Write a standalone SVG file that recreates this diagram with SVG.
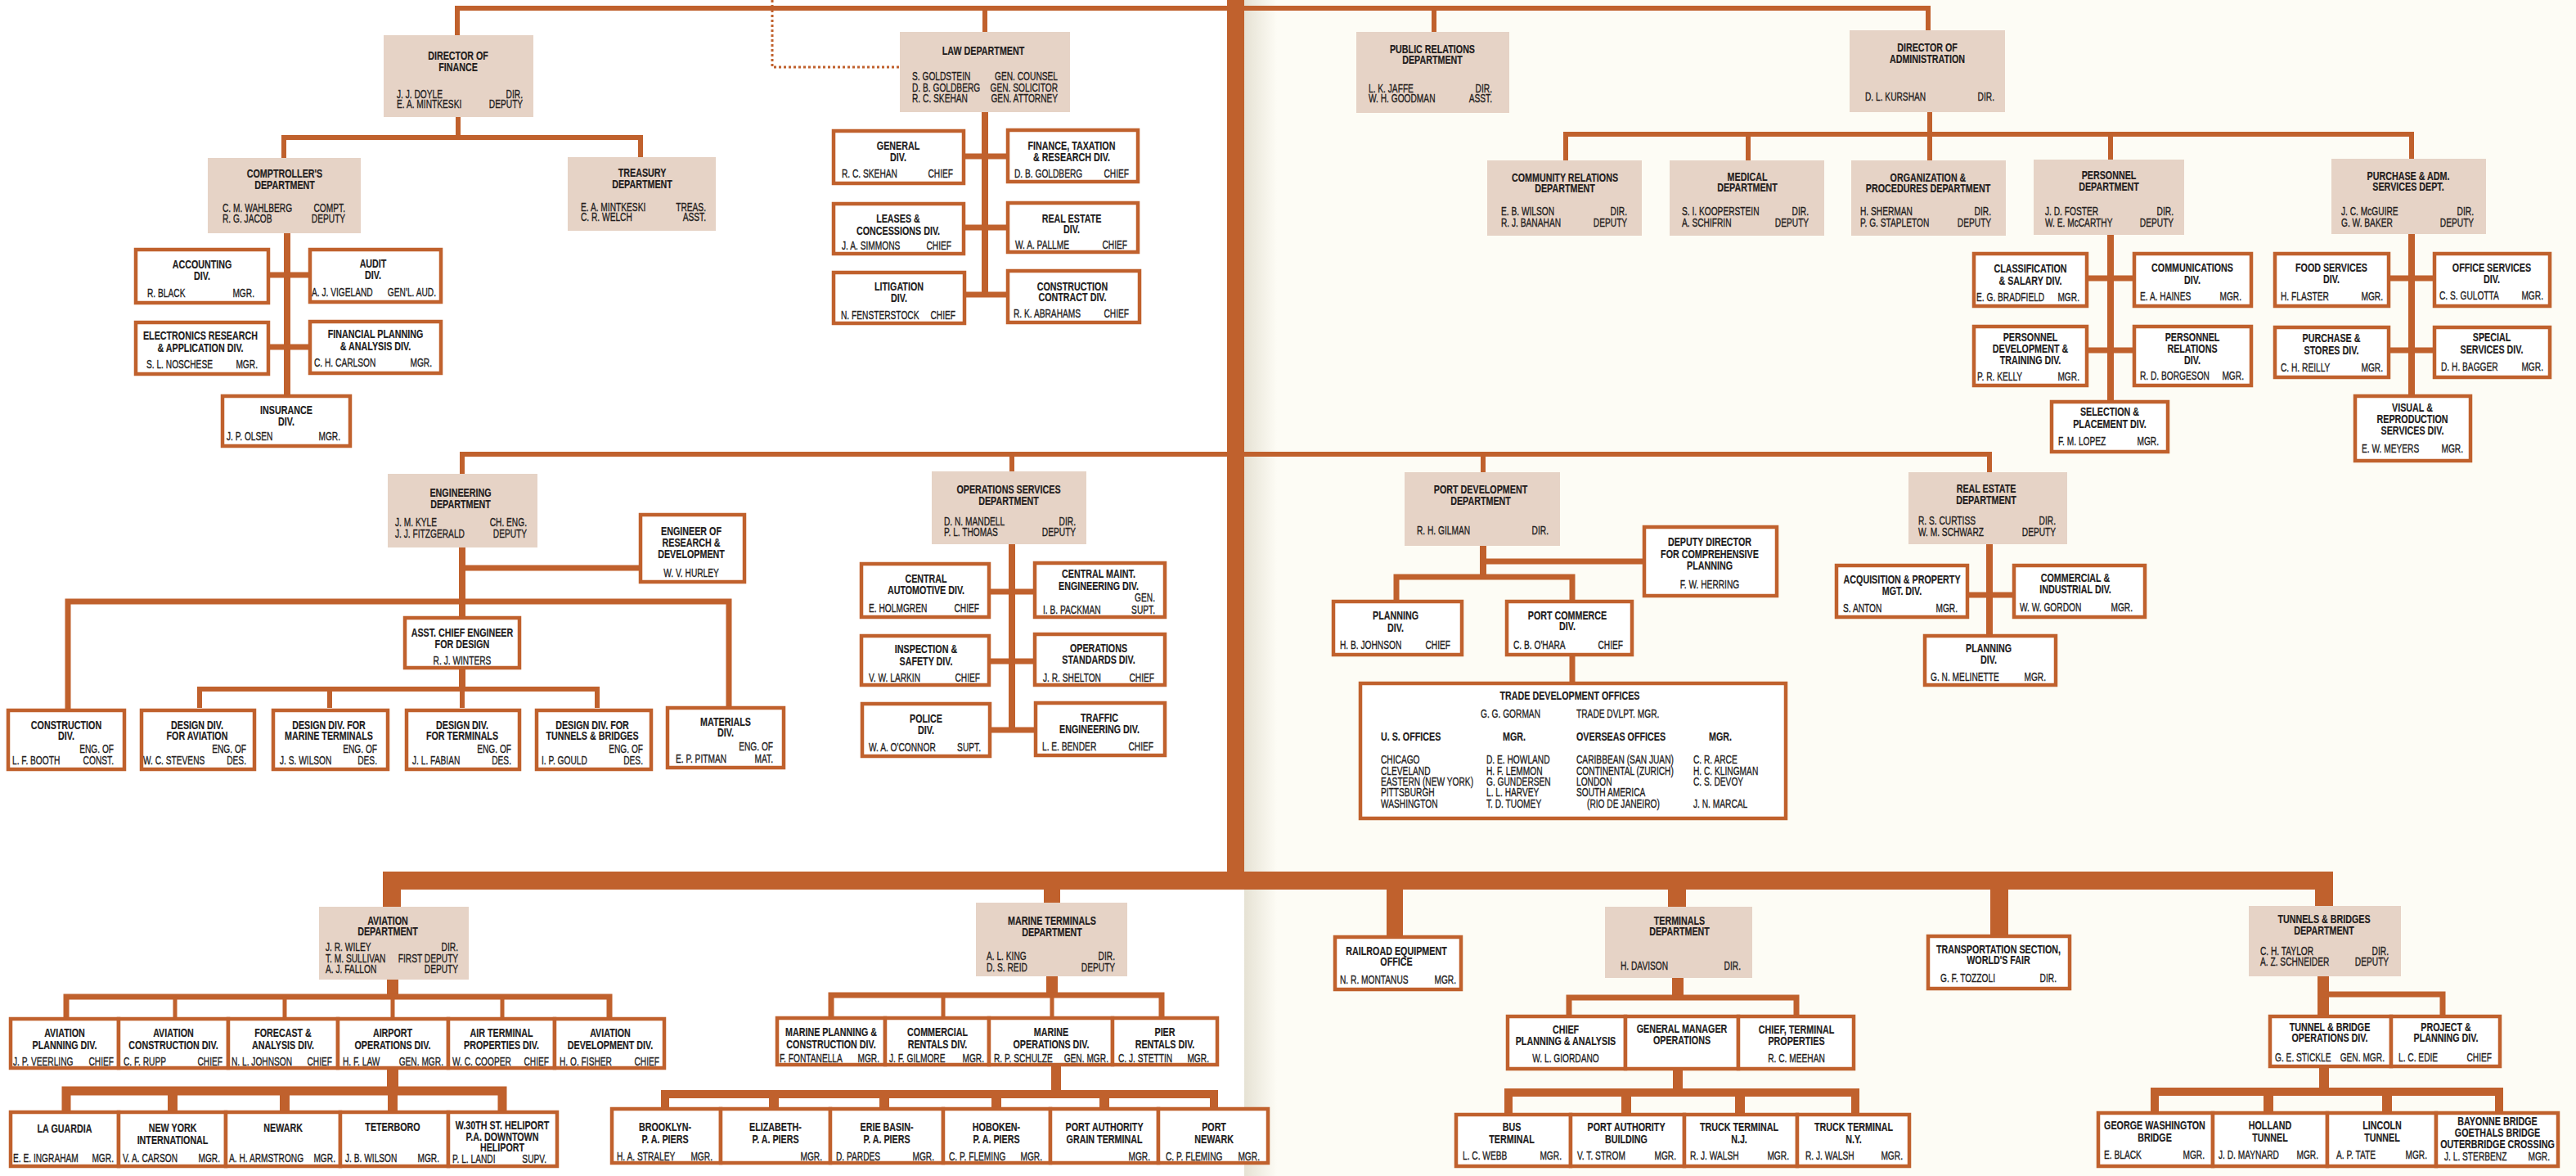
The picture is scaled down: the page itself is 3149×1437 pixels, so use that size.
<svg xmlns="http://www.w3.org/2000/svg" width="3149" height="1437" viewBox="0 0 3149 1437">
<defs>
<style>
.ln{fill:none;stroke:#C0612D;stroke-linejoin:miter;stroke-linecap:butt}
.d{fill:#E6D3C6}
.b{fill:#FFFFFF;stroke:#C0612D;stroke-width:4.5}
text{font-family:"Liberation Sans",Arial,sans-serif;font-size:15px;fill:#231D1D;stroke:#231D1D;stroke-width:0.35;transform-box:fill-box;transform-origin:left center;transform:scaleX(0.68)}
.t{font-size:14.5px;font-weight:bold;text-anchor:middle;transform-origin:center;transform:scaleX(0.74);stroke-width:0.2}
.tl{font-size:14.5px;font-weight:bold;transform:scaleX(0.74);stroke-width:0.2}
.e{text-anchor:end;transform-origin:right center}
.m{text-anchor:middle;transform-origin:center}
</style>
<linearGradient id="gut" x1="0" y1="0" x2="1" y2="0">
<stop offset="0" stop-color="#E6E2D4"/>
<stop offset="1" stop-color="#FDFCF5"/>
</linearGradient>
</defs>
<rect x="0" y="0" width="3149" height="1437" fill="#FFFFFF"/>
<rect x="1521" y="0" width="1628" height="1437" fill="#FDFCF5"/>
<rect x="1521" y="0" width="40" height="1437" fill="url(#gut)"/>

<g id="connectors">
<path class="ln" stroke-width="6" d="M559 43 V10 H2357 V37"/>
<path class="ln" stroke-width="3" stroke-dasharray="3 3" d="M944 0 V82 H1100"/>
<path class="ln" stroke-width="6" d="M1753 10 V39 M1204 10 V39"/>
<path class="ln" stroke-width="6" d="M560 143 V168 M347 193 V168 H783 V192"/>
<path class="ln" stroke-width="8" d="M351 285 V482"/>
<path class="ln" stroke-width="7" d="M330 336 H377 M330 424 H377"/>
<path class="ln" stroke-width="8" d="M1204 137 V362"/>
<path class="ln" stroke-width="7" d="M1180 191 H1230 M1180 278 H1230 M1181 360 H1230"/>
<path class="ln" stroke-width="6" d="M2359 137 V196 M1914 196 V164 H2948 V194 M2137 164 V196 M2580 164 V195"/>
<path class="ln" stroke-width="8" d="M2580 287 V489 M2948 286 V482"/>
<path class="ln" stroke-width="7" d="M2553 340 H2607 M2553 428 H2607 M2922 340 H2974 M2922 428 H2974"/>
<path class="ln" stroke-width="6" d="M565 579 V555 H2432 V577 M1237 555 V576 M1813 555 V577"/>
<path class="ln" stroke-width="8" d="M565 669 V842"/>
<path class="ln" stroke-width="7" d="M565 694 H781 M83 867 V735 H891 V863"/>
<path class="ln" stroke-width="6" d="M244 865 V842 H730 V865 M403 842 V865 M565 842 V865"/>
<path class="ln" stroke-width="8" d="M1237 665 V892"/>
<path class="ln" stroke-width="7" d="M1211 723 H1263 M1211 808 H1263 M1212 892 H1264"/>
<path class="ln" stroke-width="8" d="M1813 667 V705"/>
<path class="ln" stroke-width="7" d="M1813 686 H2008 M1707 733 V705 H1922 V733 M1922 802 V833"/>
<path class="ln" stroke-width="8" d="M2432 665 V775"/>
<path class="ln" stroke-width="7" d="M2407 727 H2460"/>
<rect x="1500" y="0" width="21" height="1087" fill="#C0612D"/>
<path class="ln" stroke-width="22" d="M479 1108 V1076 H2841 V1107"/>
<path class="ln" stroke-width="20" d="M1286 1076 V1103 M1705 1076 V1143"/>
<path class="ln" stroke-width="22" d="M2050 1076 V1108 M2444 1076 V1142"/>
<path class="ln" stroke-width="14" d="M480 1197 V1218"/>
<path class="ln" stroke-width="7" d="M81 1243 V1218 H745 V1243"/>
<path class="ln" stroke-width="5" d="M214 1218 V1243 M348 1218 V1243 M480 1218 V1243 M614 1218 V1243"/>
<path class="ln" stroke-width="14" d="M480 1307 V1333"/>
<path class="ln" stroke-width="11" d="M81 1357 V1333 H614 V1357"/>
<path class="ln" stroke-width="12" d="M211 1333 V1357 M348 1333 V1357 M480 1333 V1357"/>
<path class="ln" stroke-width="14" d="M1286 1193 V1216"/>
<path class="ln" stroke-width="7" d="M1016 1242 V1216 H1420 V1242"/>
<path class="ln" stroke-width="5" d="M1153 1216 V1242 M1286 1216 V1242"/>
<path class="ln" stroke-width="12" d="M1291 1303 V1337"/>
<path class="ln" stroke-width="10" d="M813 1353 V1337 H1484 V1353"/>
<path class="ln" stroke-width="12" d="M946 1337 V1353 M1081 1337 V1353 M1218 1337 V1353 M1350 1337 V1353"/>
<path class="ln" stroke-width="14" d="M2051 1195 V1219"/>
<path class="ln" stroke-width="7" d="M1918 1240 V1219 H2196 V1240"/>
<path class="ln" stroke-width="12" d="M2051 1308 V1335"/>
<path class="ln" stroke-width="10" d="M1844 1360 V1335 H2268 V1360"/>
<path class="ln" stroke-width="12" d="M1988 1335 V1360 M2127 1335 V1360"/>
<path class="ln" stroke-width="14" d="M2840 1193 V1240"/>
<path class="ln" stroke-width="7" d="M2840 1215 H2986 V1240"/>
<path class="ln" stroke-width="12" d="M2841 1305 V1334"/>
<path class="ln" stroke-width="10" d="M2634 1358 V1334 H3055 V1358"/>
<path class="ln" stroke-width="12" d="M2773 1334 V1358 M2918 1334 V1358"/>
</g>

<g id="dir-finance"><rect class="d" x="469" y="43" width="183" height="100"/>
<text class="t" x="560" y="73">DIRECTOR OF</text><text class="t" x="560" y="87">FINANCE</text>
<text x="485" y="120">J. J. DOYLE</text><text class="e" x="639" y="120">DIR.</text>
<text x="485" y="132">E. A. MINTKESKI</text><text class="e" x="639" y="132">DEPUTY</text></g>

<g id="comptroller"><rect class="d" x="254" y="193" width="187" height="92"/>
<text class="t" x="348" y="217">COMPTROLLER'S</text><text class="t" x="348" y="231">DEPARTMENT</text>
<text x="272" y="259">C. M. WAHLBERG</text><text class="e" x="422" y="259">COMPT.</text>
<text x="272" y="272">R. G. JACOB</text><text class="e" x="422" y="272">DEPUTY</text></g>

<g id="treasury"><rect class="d" x="694" y="192" width="181" height="90"/>
<text class="t" x="785" y="216">TREASURY</text><text class="t" x="785" y="230">DEPARTMENT</text>
<text x="710" y="258">E. A. MINTKESKI</text><text class="e" x="863" y="258">TREAS.</text>
<text x="710" y="270">C. R. WELCH</text><text class="e" x="863" y="270">ASST.</text></g>

<g id="accounting"><rect class="b" x="166" y="305" width="162" height="65"/>
<text class="t" x="247" y="328">ACCOUNTING</text><text class="t" x="247" y="342">DIV.</text>
<text x="180" y="363">R. BLACK</text><text class="e" x="311" y="363">MGR.</text></g>
<g id="audit"><rect class="b" x="379" y="305" width="160" height="64"/>
<text class="t" x="456" y="327">AUDIT</text><text class="t" x="456" y="341">DIV.</text>
<text x="381" y="362">A. J. VIGELAND</text><text class="e" x="533" y="362">GEN'L. AUD.</text></g>
<g id="electronics"><rect class="b" x="166" y="394" width="162" height="63"/>
<text class="t" x="245" y="415">ELECTRONICS RESEARCH</text><text class="t" x="245" y="430">&amp; APPLICATION DIV.</text>
<text x="179" y="450">S. L. NOSCHESE</text><text class="e" x="315" y="450">MGR.</text></g>
<g id="fin-planning"><rect class="b" x="379" y="393" width="160" height="63"/>
<text class="t" x="459" y="413">FINANCIAL PLANNING</text><text class="t" x="459" y="428">&amp; ANALYSIS DIV.</text>
<text x="384" y="448">C. H. CARLSON</text><text class="e" x="528" y="448">MGR.</text></g>
<g id="insurance"><rect class="b" x="272" y="484" width="156" height="61"/>
<text class="t" x="350" y="506">INSURANCE</text><text class="t" x="350" y="520">DIV.</text>
<text x="277" y="538">J. P. OLSEN</text><text class="e" x="416" y="538">MGR.</text></g>

<g id="law"><rect class="d" x="1100" y="39" width="208" height="98"/>
<text class="t" x="1202" y="67">LAW DEPARTMENT</text>
<text x="1115" y="98">S. GOLDSTEIN</text><text class="e" x="1293" y="98">GEN. COUNSEL</text>
<text x="1115" y="112">D. B. GOLDBERG</text><text class="e" x="1293" y="112">GEN. SOLICITOR</text>
<text x="1115" y="125">R. C. SKEHAN</text><text class="e" x="1293" y="125">GEN. ATTORNEY</text></g>
<g id="law-general"><rect class="b" x="1019" y="160" width="159" height="64"/>
<text class="t" x="1098" y="183">GENERAL</text><text class="t" x="1098" y="197">DIV.</text>
<text x="1029" y="217">R. C. SKEHAN</text><text class="e" x="1165" y="217">CHIEF</text></g>
<g id="law-finance"><rect class="b" x="1232" y="159" width="159" height="63"/>
<text class="t" x="1310" y="183">FINANCE, TAXATION</text><text class="t" x="1310" y="197">&amp; RESEARCH DIV.</text>
<text x="1240" y="217">D. B. GOLDBERG</text><text class="e" x="1380" y="217">CHIEF</text></g>
<g id="law-leases"><rect class="b" x="1019" y="249" width="159" height="61"/>
<text class="t" x="1098" y="272">LEASES &amp;</text><text class="t" x="1098" y="287">CONCESSIONS DIV.</text>
<text x="1029" y="305">J. A. SIMMONS</text><text class="e" x="1163" y="305">CHIEF</text></g>
<g id="law-realestate"><rect class="b" x="1232" y="248" width="159" height="60"/>
<text class="t" x="1310" y="272">REAL ESTATE</text><text class="t" x="1310" y="285">DIV.</text>
<text x="1241" y="304">W. A. PALLME</text><text class="e" x="1378" y="304">CHIEF</text></g>
<g id="law-litigation"><rect class="b" x="1019" y="333" width="160" height="62"/>
<text class="t" x="1099" y="355">LITIGATION</text><text class="t" x="1099" y="369">DIV.</text>
<text x="1028" y="390">N. FENSTERSTOCK</text><text class="e" x="1168" y="390">CHIEF</text></g>
<g id="law-construction"><rect class="b" x="1232" y="331" width="161" height="63"/>
<text class="t" x="1311" y="355">CONSTRUCTION</text><text class="t" x="1311" y="368">CONTRACT DIV.</text>
<text x="1239" y="388">R. K. ABRAHAMS</text><text class="e" x="1380" y="388">CHIEF</text></g>

<g id="public-relations"><rect class="d" x="1658" y="39" width="187" height="99"/>
<text class="t" x="1751" y="65">PUBLIC RELATIONS</text><text class="t" x="1751" y="78">DEPARTMENT</text>
<text x="1673" y="113">L. K. JAFFE</text><text class="e" x="1824" y="113">DIR.</text>
<text x="1673" y="125">W. H. GOODMAN</text><text class="e" x="1824" y="125">ASST.</text></g>

<g id="dir-admin"><rect class="d" x="2261" y="37" width="190" height="100"/>
<text class="t" x="2356" y="63">DIRECTOR OF</text><text class="t" x="2356" y="77">ADMINISTRATION</text>
<text x="2280" y="123">D. L. KURSHAN</text><text class="e" x="2438" y="123">DIR.</text></g>

<g id="community"><rect class="d" x="1818" y="196" width="189" height="92"/>
<text class="t" x="1913" y="222">COMMUNITY RELATIONS</text><text class="t" x="1913" y="235">DEPARTMENT</text>
<text x="1835" y="263">E. B. WILSON</text><text class="e" x="1989" y="263">DIR.</text>
<text x="1835" y="277">R. J. BANAHAN</text><text class="e" x="1989" y="277">DEPUTY</text></g>
<g id="medical"><rect class="d" x="2041" y="196" width="189" height="92"/>
<text class="t" x="2136" y="221">MEDICAL</text><text class="t" x="2136" y="234">DEPARTMENT</text>
<text x="2056" y="263">S. I. KOOPERSTEIN</text><text class="e" x="2211" y="263">DIR.</text>
<text x="2056" y="277">A. SCHIFRIN</text><text class="e" x="2211" y="277">DEPUTY</text></g>
<g id="org-proc"><rect class="d" x="2263" y="196" width="189" height="92"/>
<text class="t" x="2357" y="222">ORGANIZATION &amp;</text><text class="t" x="2357" y="235">PROCEDURES DEPARTMENT</text>
<text x="2274" y="263">H. SHERMAN</text><text class="e" x="2434" y="263">DIR.</text>
<text x="2274" y="277">P. G. STAPLETON</text><text class="e" x="2434" y="277">DEPUTY</text></g>
<g id="personnel"><rect class="d" x="2486" y="195" width="184" height="92"/>
<text class="t" x="2578" y="219">PERSONNEL</text><text class="t" x="2578" y="233">DEPARTMENT</text>
<text x="2500" y="263">J. D. FOSTER</text><text class="e" x="2657" y="263">DIR.</text>
<text x="2500" y="277">W. E. McCARTHY</text><text class="e" x="2657" y="277">DEPUTY</text></g>
<g id="purchase"><rect class="d" x="2850" y="194" width="189" height="92"/>
<text class="t" x="2944" y="220">PURCHASE &amp; ADM.</text><text class="t" x="2944" y="233">SERVICES DEPT.</text>
<text x="2862" y="263">J. C. McGUIRE</text><text class="e" x="3024" y="263">DIR.</text>
<text x="2862" y="277">G. W. BAKER</text><text class="e" x="3024" y="277">DEPUTY</text></g>

<g id="classification"><rect class="b" x="2413" y="310" width="138" height="64"/>
<text class="t" x="2482" y="333">CLASSIFICATION</text><text class="t" x="2482" y="348">&amp; SALARY DIV.</text>
<text x="2416" y="368">E. G. BRADFIELD</text><text class="e" x="2542" y="368">MGR.</text></g>
<g id="communications"><rect class="b" x="2609" y="310" width="143" height="64"/>
<text class="t" x="2680" y="332">COMMUNICATIONS</text><text class="t" x="2680" y="347">DIV.</text>
<text x="2616" y="367">E. A. HAINES</text><text class="e" x="2740" y="367">MGR.</text></g>
<g id="pers-dev"><rect class="b" x="2413" y="399" width="138" height="72"/>
<text class="t" x="2482" y="417">PERSONNEL</text><text class="t" x="2482" y="431">DEVELOPMENT &amp;</text><text class="t" x="2482" y="445">TRAINING DIV.</text>
<text x="2417" y="465">P. R. KELLY</text><text class="e" x="2542" y="465">MGR.</text></g>
<g id="pers-relations"><rect class="b" x="2609" y="399" width="143" height="72"/>
<text class="t" x="2680" y="417">PERSONNEL</text><text class="t" x="2680" y="431">RELATIONS</text><text class="t" x="2680" y="445">DIV.</text>
<text x="2616" y="464">R. D. BORGESON</text><text class="e" x="2743" y="464">MGR.</text></g>
<g id="selection"><rect class="b" x="2508" y="491" width="142" height="61"/>
<text class="t" x="2579" y="508">SELECTION &amp;</text><text class="t" x="2579" y="523">PLACEMENT DIV.</text>
<text x="2516" y="544">F. M. LOPEZ</text><text class="e" x="2639" y="544">MGR.</text></g>

<g id="food"><rect class="b" x="2781" y="310" width="139" height="64"/>
<text class="t" x="2850" y="332">FOOD SERVICES</text><text class="t" x="2850" y="346">DIV.</text>
<text x="2788" y="367">H. FLASTER</text><text class="e" x="2913" y="367">MGR.</text></g>
<g id="office"><rect class="b" x="2976" y="310" width="141" height="64"/>
<text class="t" x="3046" y="332">OFFICE SERVICES</text><text class="t" x="3046" y="346">DIV.</text>
<text x="2982" y="366">C. S. GULOTTA</text><text class="e" x="3109" y="366">MGR.</text></g>
<g id="purchase-stores"><rect class="b" x="2781" y="400" width="139" height="61"/>
<text class="t" x="2850" y="418">PURCHASE &amp;</text><text class="t" x="2850" y="433">STORES DIV.</text>
<text x="2788" y="454">C. H. REILLY</text><text class="e" x="2913" y="454">MGR.</text></g>
<g id="special"><rect class="b" x="2976" y="400" width="141" height="61"/>
<text class="t" x="3046" y="417">SPECIAL</text><text class="t" x="3046" y="432">SERVICES DIV.</text>
<text x="2984" y="453">D. H. BAGGER</text><text class="e" x="3109" y="453">MGR.</text></g>
<g id="visual"><rect class="b" x="2879" y="484" width="141" height="79"/>
<text class="t" x="2949" y="503">VISUAL &amp;</text><text class="t" x="2949" y="517">REPRODUCTION</text><text class="t" x="2949" y="531">SERVICES DIV.</text>
<text x="2887" y="553">E. W. MEYERS</text><text class="e" x="3011" y="553">MGR.</text></g>

<g id="engineering"><rect class="d" x="474" y="579" width="183" height="90"/>
<text class="t" x="563" y="607">ENGINEERING</text><text class="t" x="563" y="621">DEPARTMENT</text>
<text x="483" y="643">J. M. KYLE</text><text class="e" x="644" y="643">CH. ENG.</text>
<text x="483" y="657">J. J. FITZGERALD</text><text class="e" x="644" y="657">DEPUTY</text></g>
<g id="eng-research"><rect class="b" x="783" y="629" width="127" height="82"/>
<text class="t" x="845" y="654">ENGINEER OF</text><text class="t" x="845" y="668">RESEARCH &amp;</text><text class="t" x="845" y="682">DEVELOPMENT</text>
<text class="m" x="845" y="705">W. V. HURLEY</text></g>
<g id="asst-chief"><rect class="b" x="495" y="755" width="140" height="61"/>
<text class="t" x="565" y="778">ASST. CHIEF ENGINEER</text><text class="t" x="565" y="792">FOR DESIGN</text>
<text class="m" x="565" y="812">R. J. WINTERS</text></g>
<g id="eng-construction"><rect class="b" x="10" y="868" width="142" height="72"/>
<text class="t" x="81" y="891">CONSTRUCTION</text><text class="t" x="81" y="904">DIV.</text>
<text class="e" x="139" y="920">ENG. OF</text>
<text x="15" y="934">L. F. BOOTH</text><text class="e" x="139" y="934">CONST.</text></g>
<g id="design-aviation"><rect class="b" x="173" y="868" width="138" height="72"/>
<text class="t" x="241" y="891">DESIGN DIV.</text><text class="t" x="241" y="904">FOR AVIATION</text>
<text class="e" x="301" y="920">ENG. OF</text>
<text x="175" y="934">W. C. STEVENS</text><text class="e" x="301" y="934">DES.</text></g>
<g id="design-marine"><rect class="b" x="334" y="868" width="140" height="72"/>
<text class="t" x="402" y="891">DESIGN DIV. FOR</text><text class="t" x="402" y="904">MARINE TERMINALS</text>
<text class="e" x="461" y="920">ENG. OF</text>
<text x="342" y="934">J. S. WILSON</text><text class="e" x="461" y="934">DES.</text></g>
<g id="design-terminals"><rect class="b" x="497" y="868" width="138" height="72"/>
<text class="t" x="565" y="891">DESIGN DIV.</text><text class="t" x="565" y="904">FOR TERMINALS</text>
<text class="e" x="625" y="920">ENG. OF</text>
<text x="504" y="934">J. L. FABIAN</text><text class="e" x="625" y="934">DES.</text></g>
<g id="design-tunnels"><rect class="b" x="656" y="868" width="140" height="72"/>
<text class="t" x="724" y="891">DESIGN DIV. FOR</text><text class="t" x="724" y="904">TUNNELS &amp; BRIDGES</text>
<text class="e" x="786" y="920">ENG. OF</text>
<text x="662" y="934">I. P. GOULD</text><text class="e" x="786" y="934">DES.</text></g>
<g id="materials"><rect class="b" x="816" y="865" width="142" height="73"/>
<text class="t" x="887" y="887">MATERIALS</text><text class="t" x="887" y="900">DIV.</text>
<text class="e" x="945" y="917">ENG. OF</text>
<text x="826" y="932">E. P. PITMAN</text><text class="e" x="945" y="932">MAT.</text></g>

<g id="operations"><rect class="d" x="1139" y="576" width="189" height="89"/>
<text class="t" x="1233" y="603">OPERATIONS SERVICES</text><text class="t" x="1233" y="617">DEPARTMENT</text>
<text x="1154" y="642">D. N. MANDELL</text><text class="e" x="1315" y="642">DIR.</text>
<text x="1154" y="655">P. L. THOMAS</text><text class="e" x="1315" y="655">DEPUTY</text></g>
<g id="central-auto"><rect class="b" x="1053" y="689" width="156" height="65"/>
<text class="t" x="1132" y="712">CENTRAL</text><text class="t" x="1132" y="726">AUTOMOTIVE DIV.</text>
<text x="1062" y="748">E. HOLMGREN</text><text class="e" x="1197" y="748">CHIEF</text></g>
<g id="central-maint"><rect class="b" x="1265" y="688" width="159" height="66"/>
<text class="t" x="1343" y="706">CENTRAL MAINT.</text><text class="t" x="1343" y="721">ENGINEERING DIV.</text>
<text class="e" x="1412" y="735">GEN.</text>
<text x="1275" y="750">I. B. PACKMAN</text><text class="e" x="1412" y="750">SUPT.</text></g>
<g id="inspection"><rect class="b" x="1053" y="777" width="156" height="60"/>
<text class="t" x="1132" y="798">INSPECTION &amp;</text><text class="t" x="1132" y="813">SAFETY DIV.</text>
<text x="1062" y="833">V. W. LARKIN</text><text class="e" x="1198" y="833">CHIEF</text></g>
<g id="ops-standards"><rect class="b" x="1265" y="775" width="159" height="62"/>
<text class="t" x="1343" y="797">OPERATIONS</text><text class="t" x="1343" y="811">STANDARDS DIV.</text>
<text x="1275" y="833">J. R. SHELTON</text><text class="e" x="1411" y="833">CHIEF</text></g>
<g id="police"><rect class="b" x="1054" y="860" width="156" height="64"/>
<text class="t" x="1132" y="883">POLICE</text><text class="t" x="1132" y="897">DIV.</text>
<text x="1062" y="918">W. A. O'CONNOR</text><text class="e" x="1199" y="918">SUPT.</text></g>
<g id="traffic"><rect class="b" x="1266" y="859" width="158" height="64"/>
<text class="t" x="1344" y="882">TRAFFIC</text><text class="t" x="1344" y="896">ENGINEERING DIV.</text>
<text x="1274" y="917">L. E. BENDER</text><text class="e" x="1410" y="917">CHIEF</text></g>

<g id="port-dev"><rect class="d" x="1717" y="577" width="190" height="90"/>
<text class="t" x="1810" y="603">PORT DEVELOPMENT</text><text class="t" x="1810" y="617">DEPARTMENT</text>
<text x="1732" y="653">R. H. GILMAN</text><text class="e" x="1893" y="653">DIR.</text></g>
<g id="deputy-dir"><rect class="b" x="2010" y="644" width="162" height="84"/>
<text class="t" x="2090" y="667">DEPUTY DIRECTOR</text><text class="t" x="2090" y="682">FOR COMPREHENSIVE</text><text class="t" x="2090" y="696">PLANNING</text>
<text class="m" x="2090" y="719">F. W. HERRING</text></g>
<g id="port-planning"><rect class="b" x="1630" y="735" width="157" height="65"/>
<text class="t" x="1706" y="757">PLANNING</text><text class="t" x="1706" y="772">DIV.</text>
<text x="1638" y="793">H. B. JOHNSON</text><text class="e" x="1773" y="793">CHIEF</text></g>
<g id="port-commerce"><rect class="b" x="1842" y="735" width="153" height="65"/>
<text class="t" x="1916" y="757">PORT COMMERCE</text><text class="t" x="1916" y="770">DIV.</text>
<text x="1850" y="793">C. B. O'HARA</text><text class="e" x="1984" y="793">CHIEF</text></g>
<g id="trade-offices"><rect class="b" x="1663" y="835" width="520" height="165"/>
<text class="t" x="1919" y="855">TRADE DEVELOPMENT OFFICES</text>
<text x="1810" y="877">G. G. GORMAN</text><text x="1927" y="877">TRADE DVLPT. MGR.</text>
<text class="tl" x="1688" y="905">U. S. OFFICES</text><text class="tl" x="1837" y="905">MGR.</text>
<text class="tl" x="1927" y="905">OVERSEAS OFFICES</text><text class="tl" x="2089" y="905">MGR.</text>
<text x="1688" y="933">CHICAGO</text><text x="1817" y="933">D. E. HOWLAND</text><text x="1927" y="933">CARIBBEAN (SAN JUAN)</text><text x="2070" y="933">C. R. ARCE</text>
<text x="1688" y="947">CLEVELAND</text><text x="1817" y="947">H. F. LEMMON</text><text x="1927" y="947">CONTINENTAL (ZURICH)</text><text x="2070" y="947">H. C. KLINGMAN</text>
<text x="1688" y="960">EASTERN (NEW YORK)</text><text x="1817" y="960">G. GUNDERSEN</text><text x="1927" y="960">LONDON</text><text x="2070" y="960">C. S. DEVOY</text>
<text x="1688" y="973">PITTSBURGH</text><text x="1817" y="973">L. L. HARVEY</text><text x="1927" y="973">SOUTH AMERICA</text>
<text x="1688" y="987">WASHINGTON</text><text x="1817" y="987">T. D. TUOMEY</text><text x="1940" y="987">(RIO DE JANEIRO)</text><text x="2070" y="987">J. N. MARCAL</text></g>

<g id="real-estate"><rect class="d" x="2333" y="577" width="194" height="88"/>
<text class="t" x="2428" y="602">REAL ESTATE</text><text class="t" x="2428" y="616">DEPARTMENT</text>
<text x="2345" y="641">R. S. CURTISS</text><text class="e" x="2513" y="641">DIR.</text>
<text x="2345" y="655">W. M. SCHWARZ</text><text class="e" x="2513" y="655">DEPUTY</text></g>
<g id="acquisition"><rect class="b" x="2245" y="691" width="160" height="63"/>
<text class="t" x="2325" y="713">ACQUISITION &amp; PROPERTY</text><text class="t" x="2325" y="727">MGT. DIV.</text>
<text x="2253" y="748">S. ANTON</text><text class="e" x="2393" y="748">MGR.</text></g>
<g id="commercial-ind"><rect class="b" x="2462" y="691" width="160" height="63"/>
<text class="t" x="2537" y="711">COMMERCIAL &amp;</text><text class="t" x="2537" y="725">INDUSTRIAL DIV.</text>
<text x="2469" y="747">W. W. GORDON</text><text class="e" x="2607" y="747">MGR.</text></g>
<g id="re-planning"><rect class="b" x="2353" y="777" width="160" height="60"/>
<text class="t" x="2431" y="797">PLANNING</text><text class="t" x="2431" y="811">DIV.</text>
<text x="2360" y="832">G. N. MELINETTE</text><text class="e" x="2501" y="832">MGR.</text></g>

<g id="aviation"><rect class="d" x="390" y="1108" width="183" height="89"/>
<text class="t" x="474" y="1130">AVIATION</text><text class="t" x="474" y="1143">DEPARTMENT</text>
<text x="398" y="1162">J. R. WILEY</text><text class="e" x="560" y="1162">DIR.</text>
<text x="398" y="1176">T. M. SULLIVAN</text><text class="e" x="560" y="1176">FIRST DEPUTY</text>
<text x="398" y="1189">A. J. FALLON</text><text class="e" x="560" y="1189">DEPUTY</text></g>
<g id="av-planning"><rect class="b" x="13" y="1245" width="132" height="60"/>
<text class="t" x="79" y="1267">AVIATION</text><text class="t" x="79" y="1282">PLANNING DIV.</text>
<text x="16" y="1302">J. P. VEERLING</text><text class="e" x="139" y="1302">CHIEF</text></g>
<g id="av-construction"><rect class="b" x="145" y="1245" width="134" height="60"/>
<text class="t" x="212" y="1267">AVIATION</text><text class="t" x="212" y="1282">CONSTRUCTION DIV.</text>
<text x="151" y="1302">C. F. RUPP</text><text class="e" x="272" y="1302">CHIEF</text></g>
<g id="av-forecast"><rect class="b" x="279" y="1245" width="134" height="60"/>
<text class="t" x="346" y="1267">FORECAST &amp;</text><text class="t" x="346" y="1282">ANALYSIS DIV.</text>
<text x="283" y="1302">N. L. JOHNSON</text><text class="e" x="406" y="1302">CHIEF</text></g>
<g id="av-airport-ops"><rect class="b" x="413" y="1245" width="135" height="60"/>
<text class="t" x="480" y="1267">AIRPORT</text><text class="t" x="480" y="1282">OPERATIONS DIV.</text>
<text x="419" y="1302">H. F. LAW</text><text class="e" x="542" y="1302">GEN. MGR.</text></g>
<g id="av-terminal-prop"><rect class="b" x="548" y="1245" width="130" height="60"/>
<text class="t" x="613" y="1267">AIR TERMINAL</text><text class="t" x="613" y="1282">PROPERTIES DIV.</text>
<text x="553" y="1302">W. C. COOPER</text><text class="e" x="671" y="1302">CHIEF</text></g>
<g id="av-development"><rect class="b" x="678" y="1245" width="134" height="60"/>
<text class="t" x="746" y="1267">AVIATION</text><text class="t" x="746" y="1282">DEVELOPMENT DIV.</text>
<text x="684" y="1302">H. O. FISHER</text><text class="e" x="806" y="1302">CHIEF</text></g>
<g id="laguardia"><rect class="b" x="13" y="1359" width="132" height="66"/>
<text class="t" x="79" y="1384">LA GUARDIA</text>
<text x="16" y="1420">E. E. INGRAHAM</text><text class="e" x="139" y="1420">MGR.</text></g>
<g id="ny-intl"><rect class="b" x="145" y="1359" width="131" height="66"/>
<text class="t" x="211" y="1383">NEW YORK</text><text class="t" x="211" y="1398">INTERNATIONAL</text>
<text x="150" y="1420">V. A. CARSON</text><text class="e" x="269" y="1420">MGR.</text></g>
<g id="newark"><rect class="b" x="276" y="1359" width="140" height="66"/>
<text class="t" x="346" y="1383">NEWARK</text>
<text x="280" y="1420">A. H. ARMSTRONG</text><text class="e" x="410" y="1420">MGR.</text></g>
<g id="teterboro"><rect class="b" x="416" y="1359" width="132" height="66"/>
<text class="t" x="480" y="1382">TETERBORO</text>
<text x="422" y="1420">J. B. WILSON</text><text class="e" x="537" y="1420">MGR.</text></g>
<g id="heliport"><rect class="b" x="548" y="1359" width="133" height="66"/>
<text class="t" x="614" y="1380">W.30TH ST. HELIPORT</text><text class="t" x="614" y="1394">P.A. DOWNTOWN</text><text class="t" x="614" y="1407">HELIPORT</text>
<text x="553" y="1421">P. L. LANDI</text><text class="e" x="668" y="1421">SUPV.</text></g>

<g id="marine"><rect class="d" x="1193" y="1103" width="185" height="90"/>
<text class="t" x="1286" y="1130">MARINE TERMINALS</text><text class="t" x="1286" y="1144">DEPARTMENT</text>
<text x="1206" y="1173">A. L. KING</text><text class="e" x="1363" y="1173">DIR.</text>
<text x="1206" y="1187">D. S. REID</text><text class="e" x="1363" y="1187">DEPUTY</text></g>
<g id="mar-planning"><rect class="b" x="950" y="1244" width="132" height="57"/>
<text class="t" x="1016" y="1266">MARINE PLANNING &amp;</text><text class="t" x="1016" y="1281">CONSTRUCTION DIV.</text>
<text x="953" y="1298">F. FONTANELLA</text><text class="e" x="1075" y="1298">MGR.</text></g>
<g id="mar-commercial"><rect class="b" x="1082" y="1244" width="127" height="57"/>
<text class="t" x="1146" y="1266">COMMERCIAL</text><text class="t" x="1146" y="1281">RENTALS DIV.</text>
<text x="1087" y="1298">J. F. GILMORE</text><text class="e" x="1203" y="1298">MGR.</text></g>
<g id="mar-ops"><rect class="b" x="1209" y="1244" width="151" height="57"/>
<text class="t" x="1285" y="1266">MARINE</text><text class="t" x="1285" y="1281">OPERATIONS DIV.</text>
<text x="1215" y="1298">R. P. SCHULZE</text><text class="e" x="1355" y="1298">GEN. MGR.</text></g>
<g id="mar-pier"><rect class="b" x="1360" y="1244" width="128" height="57"/>
<text class="t" x="1424" y="1266">PIER</text><text class="t" x="1424" y="1281">RENTALS DIV.</text>
<text x="1367" y="1298">C. J. STETTIN</text><text class="e" x="1478" y="1298">MGR.</text></g>
<g id="brooklyn"><rect class="b" x="748" y="1355" width="133" height="66"/>
<text class="t" x="813" y="1382">BROOKLYN-</text><text class="t" x="813" y="1397">P. A. PIERS</text>
<text x="754" y="1418">H. A. STRALEY</text><text class="e" x="871" y="1418">MGR.</text></g>
<g id="elizabeth"><rect class="b" x="881" y="1355" width="134" height="66"/>
<text class="t" x="948" y="1382">ELIZABETH-</text><text class="t" x="948" y="1397">P. A. PIERS</text>
<text class="e" x="1005" y="1418">MGR.</text></g>
<g id="erie"><rect class="b" x="1015" y="1355" width="138" height="66"/>
<text class="t" x="1084" y="1382">ERIE BASIN-</text><text class="t" x="1084" y="1397">P. A. PIERS</text>
<text x="1022" y="1418">D. PARDES</text><text class="e" x="1142" y="1418">MGR.</text></g>
<g id="hoboken"><rect class="b" x="1153" y="1355" width="131" height="66"/>
<text class="t" x="1218" y="1382">HOBOKEN-</text><text class="t" x="1218" y="1397">P. A. PIERS</text>
<text x="1160" y="1418">C. P. FLEMING</text><text class="e" x="1274" y="1418">MGR.</text></g>
<g id="grain"><rect class="b" x="1284" y="1355" width="132" height="66"/>
<text class="t" x="1350" y="1382">PORT AUTHORITY</text><text class="t" x="1350" y="1397">GRAIN TERMINAL</text>
<text class="e" x="1406" y="1418">MGR.</text></g>
<g id="port-newark"><rect class="b" x="1416" y="1355" width="134" height="66"/>
<text class="t" x="1484" y="1382">PORT</text><text class="t" x="1484" y="1397">NEWARK</text>
<text x="1425" y="1418">C. P. FLEMING</text><text class="e" x="1540" y="1418">MGR.</text></g>

<g id="railroad"><rect class="b" x="1632" y="1145" width="154" height="64"/>
<text class="t" x="1707" y="1167">RAILROAD EQUIPMENT</text><text class="t" x="1707" y="1180">OFFICE</text>
<text x="1638" y="1202">N. R. MONTANUS</text><text class="e" x="1780" y="1202">MGR.</text></g>

<g id="terminals"><rect class="d" x="1962" y="1108" width="180" height="87"/>
<text class="t" x="2053" y="1130">TERMINALS</text><text class="t" x="2053" y="1143">DEPARTMENT</text>
<text x="1981" y="1185">H. DAVISON</text><text class="e" x="2128" y="1185">DIR.</text></g>
<g id="term-planning"><rect class="b" x="1843" y="1242" width="144" height="64"/>
<text class="t" x="1914" y="1263">CHIEF</text><text class="t" x="1914" y="1277">PLANNING &amp; ANALYSIS</text>
<text class="m" x="1914" y="1298">W. L. GIORDANO</text></g>
<g id="term-gm"><rect class="b" x="1987" y="1242" width="138" height="64"/>
<text class="t" x="2056" y="1262">GENERAL MANAGER</text><text class="t" x="2056" y="1276">OPERATIONS</text></g>
<g id="term-properties"><rect class="b" x="2125" y="1242" width="141" height="64"/>
<text class="t" x="2196" y="1263">CHIEF, TERMINAL</text><text class="t" x="2196" y="1277">PROPERTIES</text>
<text class="m" x="2196" y="1298">R. C. MEEHAN</text></g>
<g id="bus"><rect class="b" x="1780" y="1362" width="140" height="63"/>
<text class="t" x="1848" y="1382">BUS</text><text class="t" x="1848" y="1397">TERMINAL</text>
<text x="1788" y="1417">L. C. WEBB</text><text class="e" x="1909" y="1417">MGR.</text></g>
<g id="pa-building"><rect class="b" x="1920" y="1362" width="139" height="63"/>
<text class="t" x="1988" y="1382">PORT AUTHORITY</text><text class="t" x="1988" y="1397">BUILDING</text>
<text x="1928" y="1417">V. T. STROM</text><text class="e" x="2049" y="1417">MGR.</text></g>
<g id="truck-nj"><rect class="b" x="2059" y="1362" width="138" height="63"/>
<text class="t" x="2126" y="1382">TRUCK TERMINAL</text><text class="t" x="2126" y="1397">N.J.</text>
<text x="2066" y="1417">R. J. WALSH</text><text class="e" x="2187" y="1417">MGR.</text></g>
<g id="truck-ny"><rect class="b" x="2197" y="1362" width="137" height="63"/>
<text class="t" x="2266" y="1382">TRUCK TERMINAL</text><text class="t" x="2266" y="1397">N.Y.</text>
<text x="2207" y="1417">R. J. WALSH</text><text class="e" x="2326" y="1417">MGR.</text></g>

<g id="transportation"><rect class="b" x="2357" y="1144" width="173" height="64"/>
<text class="t" x="2443" y="1165">TRANSPORTATION SECTION,</text><text class="t" x="2443" y="1178">WORLD'S FAIR</text>
<text x="2372" y="1200">G. F. TOZZOLI</text><text class="e" x="2514" y="1200">DIR.</text></g>

<g id="tunnels"><rect class="d" x="2749" y="1107" width="186" height="86"/>
<text class="t" x="2841" y="1128">TUNNELS &amp; BRIDGES</text><text class="t" x="2841" y="1142">DEPARTMENT</text>
<text x="2763" y="1167">C. H. TAYLOR</text><text class="e" x="2920" y="1167">DIR.</text>
<text x="2763" y="1180">A. Z. SCHNEIDER</text><text class="e" x="2920" y="1180">DEPUTY</text></g>
<g id="tb-ops"><rect class="b" x="2775" y="1242" width="148" height="61"/>
<text class="t" x="2848" y="1260">TUNNEL &amp; BRIDGE</text><text class="t" x="2848" y="1273">OPERATIONS DIV.</text>
<text x="2781" y="1297">G. E. STICKLE</text><text class="e" x="2915" y="1297">GEN. MGR.</text></g>
<g id="tb-project"><rect class="b" x="2923" y="1242" width="133" height="61"/>
<text class="t" x="2990" y="1260">PROJECT &amp;</text><text class="t" x="2990" y="1273">PLANNING DIV.</text>
<text x="2932" y="1297">L. C. EDIE</text><text class="e" x="3046" y="1297">CHIEF</text></g>
<g id="gwb"><rect class="b" x="2565" y="1360" width="140" height="65"/>
<text class="t" x="2634" y="1380">GEORGE WASHINGTON</text><text class="t" x="2634" y="1395">BRIDGE</text>
<text x="2572" y="1416">E. BLACK</text><text class="e" x="2695" y="1416">MGR.</text></g>
<g id="holland"><rect class="b" x="2705" y="1360" width="140" height="65"/>
<text class="t" x="2775" y="1380">HOLLAND</text><text class="t" x="2775" y="1395">TUNNEL</text>
<text x="2712" y="1416">J. D. MAYNARD</text><text class="e" x="2834" y="1416">MGR.</text></g>
<g id="lincoln"><rect class="b" x="2845" y="1360" width="133" height="65"/>
<text class="t" x="2912" y="1380">LINCOLN</text><text class="t" x="2912" y="1395">TUNNEL</text>
<text x="2856" y="1416">A. P. TATE</text><text class="e" x="2967" y="1416">MGR.</text></g>
<g id="si-bridges"><rect class="b" x="2978" y="1360" width="149" height="65"/>
<text class="t" x="3053" y="1375">BAYONNE BRIDGE</text><text class="t" x="3053" y="1389">GOETHALS BRIDGE</text><text class="t" x="3053" y="1403">OUTERBRIDGE CROSSING</text>
<text x="2988" y="1418">J. L. STERBENZ</text><text class="e" x="3117" y="1418">MGR.</text></g>
</svg>
